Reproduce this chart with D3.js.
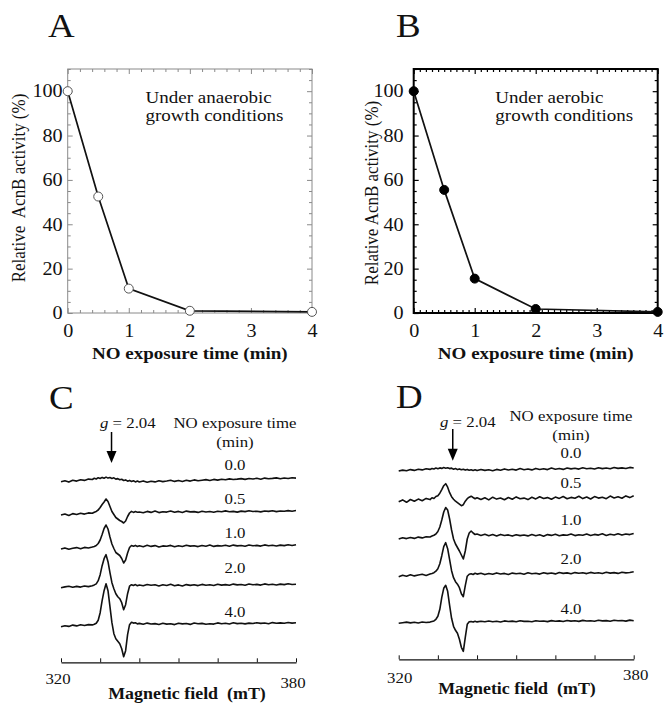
<!DOCTYPE html>
<html lang="en">
<head>
<meta charset="UTF-8">
<title>AcnB activity and EPR spectra</title>
<script src="https://d3js.org/d3.v7.min.js"></script>
<style>
  body { margin: 0; background: #fff; }
  svg text { font-family: "Liberation Serif", "Times New Roman", serif; fill: #111; }
</style>
</head>
<body>
<div id="fig"></div>
<script>
// ---------- data: panels A / B ----------
const timeMin = [0, 0.5, 1, 2, 4];
const anaerobicActivity = [100, 52.5, 11, 1, 0.5];
const aerobicActivity = [100, 55.5, 15.5, 1.8, 0.5];
const xTickValues = [0, 1, 2, 3, 4];
const yTickValues = [0, 20, 40, 60, 80, 100];

// ---------- data: panels C / D (EPR, arbitrary units) ----------
const fieldMT = [320, 321, 322, 323, 324, 325, 326, 327,
  328, 328.5, 329, 329.5, 330, 330.5, 331, 331.5,
  332, 332.5, 333, 333.5, 334, 334.5, 335, 335.5,
  336, 336.5, 337, 337.5, 338, 338.5, 339, 339.5,
  340, 341, 342, 343, 344, 345, 346, 347, 348, 349,
  350, 351, 352, 353, 354, 355, 356, 357, 358, 359,
  360, 361, 362, 363, 364, 365, 366, 367, 368, 369,
  370, 371, 372, 373, 374, 375, 376, 377, 378, 379,
  380];
const exposureLabels = ["0.0", "0.5", "1.0", "2.0", "4.0"];

const specC00 = [0, 0.9, -0.4, 1.4, 0.6, 2.0, 1.3, 2.6,
  2.2, 3.4, 2.7, 4.0, 3.2, 4.3, 3.5, 4.6,
  3.6, 4.2, 3.3, 3.9, 2.6, 3.1, 1.9, 2.4,
  1.2, 1.8, 0.5, 1.3, 0.2, 0.9, -0.2, 0.6,
  -0.3, 0.8, -0.6, 0.4, -0.2, 1.0, 0.1, 0.7, 1.5, 0.3,
  1.2, 0.2, 1.4, 0.6, 1.8, 0.9, 1.5, 2.1, 1.2, 2.3,
  1.6, 2.5, 1.9, 2.8, 2.2, 2.6, 3.1, 2.3, 3.2, 2.7,
  3.4, 2.5, 3.6, 2.9, 3.3, 3.8, 3.0, 3.7, 3.2, 4.0,
  3.6];
const specC05 = [0, 1.0, -0.5, 1.4, 0.5, 1.7, 0.9, 2.1,
  1.7, 2.8, 3.6, 5.0, 7.5, 10.5, 13.0, 16.0,
  13.5, 8.5, 3.5, 0.5, -2.5, -4.0, -5.5, -6.5,
  -8.0, -6.0, -1.5, 2.0, 3.6, 2.6, 3.4, 2.8,
  3.0, 2.3, 3.6, 2.6, 3.9, 2.4, 3.3, 2.9, 4.0, 2.7,
  3.6, 2.5, 3.9, 3.1, 3.4, 2.6, 3.7, 3.0, 3.5, 2.8,
  3.8, 3.2, 4.1, 3.3, 3.6, 2.9, 3.9, 3.4, 4.2, 3.5,
  3.8, 3.1, 4.0, 3.6, 4.3, 3.4, 4.0, 3.7, 4.4, 3.8,
  4.5];
const specC10 = [0, 1.1, -0.3, 0.7, 1.4, 0.2, 1.6, 1.0,
  2.0, 2.6, 3.5, 5.5, 9.0, 14.5, 20.5, 24.0,
  20.0, 12.0, 5.0, 0.5, -3.5, -5.0, -6.5, -9.5,
  -14.0, -11.0, -4.0, 1.5, 3.5, 2.8, 3.6, 2.5,
  3.2, 2.3, 3.7, 2.6, 3.4, 2.0, 3.1, 2.7, 3.6, 2.2,
  3.3, 2.5, 3.8, 2.9, 3.2, 2.4, 3.5, 2.8, 3.9, 2.6,
  3.4, 3.0, 3.7, 2.7, 3.9, 3.1, 3.5, 2.8, 4.0, 3.2,
  3.6, 2.9, 4.1, 3.3, 3.7, 3.0, 3.9, 3.4, 4.2, 3.5,
  4.3];
const specC20 = [0, 0.8, 1.5, 0.4, 1.3, 0.6, 1.7, 1.1,
  1.9, 2.8, 3.8, 7.0, 13.0, 22.0, 29.0, 33.0,
  26.0, 15.0, 5.0, -1.0, -6.0, -9.0, -11.0, -15.0,
  -22.0, -17.0, -6.0, 1.5, 3.0, 2.2, 3.1, 2.0,
  2.7, 1.9, 3.2, 2.4, 3.0, 1.8, 2.9, 2.2, 3.4, 2.0,
  2.8, 1.7, 3.1, 2.3, 2.9, 2.1, 3.3, 2.5, 3.0, 2.2,
  3.5, 2.6, 3.1, 2.4, 3.6, 2.8, 3.2, 2.5, 3.7, 2.9,
  3.3, 2.6, 3.8, 3.0, 3.4, 2.7, 3.6, 3.1, 3.9, 3.2,
  3.5];
const specC40 = [0, 1.0, 0.3, 1.6, 0.8, 1.9, 1.2, 2.1,
  1.8, 2.5, 3.5, 6.5, 14.0, 26.0, 36.0, 43.0,
  36.0, 20.0, 4.0, -7.0, -12.0, -14.5, -17.0, -22.0,
  -30.0, -24.0, -8.0, 2.0, 4.5, 3.6, 3.9, 2.8,
  3.3, 2.5, 3.6, 2.7, 3.1, 2.2, 3.4, 2.6, 3.0, 2.1,
  3.5, 2.8, 3.2, 2.3, 3.7, 2.9, 3.3, 2.4, 3.0, 2.6,
  3.8, 3.0, 3.4, 2.7, 3.9, 3.1, 3.5, 2.8, 3.6, 3.2,
  4.0, 3.3, 3.7, 2.9, 4.1, 3.4, 3.8, 3.5, 4.2, 3.6,
  3.9];

const specD00 = [0, 0.9, 0.2, 1.4, 0.6, 1.7, 1.1, 2.2,
  1.6, 2.5, 2.0, 2.9, 2.3, 3.1, 2.6, 3.4,
  2.8, 3.3, 2.4, 2.9, 1.8, 2.5, 1.4, 2.1,
  1.2, 1.8, 0.9, 1.6, 0.7, 1.3, 0.5, 1.2,
  0.4, 1.5, 0.6, 1.2, 0.3, 1.6, 0.8, 2.1, 1.0, 1.7,
  0.9, 2.4, 1.3, 2.0, 1.1, 2.6, 1.5, 2.3, 1.4, 2.9,
  1.8, 2.5, 1.6, 3.0, 2.1, 2.7, 1.9, 3.2, 2.3, 2.8,
  2.0, 3.3, 2.4, 3.0, 2.2, 3.5, 2.6, 3.1, 2.5, 3.6,
  3.0];
const specD05 = [0, 1.8, -0.6, 2.2, 0.4, 2.6, 1.0, 3.3,
  2.1, 4.0, 3.2, 5.2, 6.0, 8.5, 12.0, 16.0,
  18.0, 14.5, 9.0, 5.0, 2.5, 0.5, -1.0, -2.5,
  -4.0, -3.0, 0.5, 3.0, 4.5, 5.5, 4.2, 3.0,
  4.0, 2.2, 3.9, 1.8, 4.5, 2.6, 3.7, 1.9, 4.2, 2.5,
  4.8, 3.0, 3.6, 2.1, 4.4, 2.8, 5.0, 3.2, 4.1, 2.4,
  4.6, 3.3, 5.2, 2.9, 4.3, 3.5, 5.4, 3.1, 4.7, 2.7,
  5.1, 3.6, 4.5, 3.0, 5.6, 3.8, 4.9, 3.4, 5.8, 4.1,
  6.0];
const specD10 = [0, 1.2, 0.4, 1.5, 0.6, 1.9, 1.1, 2.3,
  2.0, 3.0, 3.8, 5.0, 7.5, 12.0, 19.0, 27.0,
  31.5, 29.0, 20.0, 9.0, 0.0, -5.0, -8.5, -12.0,
  -16.0, -20.0, -12.0, 0.0, 6.0, 8.0, 6.0, 4.5,
  5.0, 3.6, 4.8, 3.2, 4.4, 3.0, 4.6, 3.5, 4.1, 2.9,
  4.3, 3.4, 4.0, 3.1, 4.5, 3.3, 4.2, 2.8, 4.4, 3.6,
  4.7, 3.2, 4.1, 3.7, 4.9, 3.4, 4.3, 3.8, 5.0, 3.5,
  4.6, 3.9, 5.2, 3.6, 4.8, 4.0, 5.3, 3.9, 5.0, 4.4,
  5.5];
const specD20 = [0, 1.5, 0.5, 2.0, 0.8, 1.7, 2.4, 1.3,
  2.6, 3.2, 4.0, 5.5, 8.0, 13.0, 21.0, 30.0,
  34.0, 28.0, 17.0, 6.0, -1.0, -5.0, -7.5, -11.0,
  -17.0, -20.0, -9.0, 0.5, 2.5, 3.0, 2.2, 3.4,
  2.6, 3.5, 2.1, 3.2, 2.4, 3.8, 2.7, 3.3, 2.2, 3.6,
  2.9, 3.4, 2.5, 3.9, 3.0, 3.5, 2.6, 4.0, 3.1, 3.7,
  2.8, 4.2, 3.3, 3.8, 2.9, 4.1, 3.4, 3.9, 3.1, 4.3,
  3.5, 4.0, 3.2, 4.4, 3.6, 4.1, 3.3, 4.5, 3.8, 4.2,
  5.0];
const specD40 = [0, 0.6, 1.2, 0.4, 1.0, 0.3, 1.3, 0.8,
  1.2, 1.8, 2.4, 4.0, 7.0, 14.0, 26.0, 35.0,
  38.0, 32.0, 18.0, 5.0, -3.0, -7.0, -10.0, -16.0,
  -24.0, -28.0, -14.0, -1.0, 1.5, 1.8, 1.2, 2.0,
  1.4, 2.1, 1.5, 2.3, 1.6, 2.0, 1.3, 2.4, 1.8, 2.2,
  1.5, 2.5, 1.9, 2.1, 1.6, 2.6, 2.0, 2.3, 1.7, 2.7,
  2.1, 2.4, 1.8, 2.8, 2.2, 2.5, 1.9, 2.9, 2.3, 2.6,
  2.0, 3.0, 2.4, 2.7, 2.1, 3.1, 2.5, 2.8, 2.2, 3.2,
  2.6];

// ---------- layout ----------
const W = 664, H = 704;
const SX = 1.12; // the source figure is slightly stretched horizontally

const svg = d3.select("#fig").append("svg")
  .attr("width", W).attr("height", H);

function addText(x, y, str, o = {}) {
  const t = svg.append("text")
    .attr("transform", `translate(${x},${y}) scale(${SX},1)` + (o.rotate ? ` rotate(${o.rotate})` : ""))
    .attr("font-size", o.size || 17)
    .attr("text-anchor", o.anchor || "start")
    .attr("font-weight", o.weight || "normal")
    .style("white-space", "pre");
  if (o.italicFirst) {
    t.append("tspan").attr("font-style", "italic").text(o.italicFirst);
    t.append("tspan").text(str);
  } else {
    t.text(str);
  }
  return t;
}

function stretchLabels(g) {
  g.selectAll("text").each(function() {
    const x = +this.getAttribute("x") || 0;
    d3.select(this).attr("x", 0).attr("transform", `translate(${x},0) scale(${SX},1)`);
  });
}

// ---------- panels A and B ----------
function activityPanel(p) {
  const x = d3.scaleLinear().domain([0, 4]).range([p.left, p.right]);
  const y = d3.scaleLinear().domain([0, 110]).range([313, 69]);
  const g = svg.append("g");

  const minorX = d3.range(0, 4.0001, p.minorStep).filter(v => Math.abs(v - Math.round(v)) > 1e-6);
  const minorY = d3.range(0, 110.001, 5).filter(v => v % 20 !== 0);

  const axes = [
    [() => d3.axisBottom(x), 313, 0, true],
    [() => d3.axisTop(x), 69, 0, false],
    [() => d3.axisLeft(y), 0, p.left, true],
    [() => d3.axisRight(y), 0, p.right, false]
  ];
  axes.forEach(([mk, ty, tx, labels], i) => {
    const isX = i < 2;
    const major = g.append("g")
      .attr("transform", `translate(${tx},${ty})`)
      .call(mk().tickValues(isX ? xTickValues : yTickValues)
        .tickSizeInner(-5).tickSizeOuter(0)
        .tickPadding(isX ? 11 : p.yPad)
        .tickFormat(labels ? d3.format("d") : () => ""))
      .attr("font-size", 18);
    major.select(".domain").remove();
    major.selectAll("line").attr("stroke", p.tickColor).attr("stroke-width", p.tickWidth);
    major.selectAll("text").attr("fill", "#111");
    stretchLabels(major);

    const minor = g.append("g")
      .attr("transform", `translate(${tx},${ty})`)
      .call(mk().tickValues(isX ? minorX : minorY).tickSizeInner(-3).tickSizeOuter(0).tickFormat(() => ""));
    minor.select(".domain").remove();
    minor.selectAll("line").attr("stroke", p.tickColor).attr("stroke-width", p.tickWidth);
  });

  g.append("rect")
    .attr("x", p.left).attr("y", y(110))
    .attr("width", p.right - p.left).attr("height", y(0) - y(110))
    .attr("fill", "none").attr("stroke", p.frameColor).attr("stroke-width", p.frameWidth);

  const pts = d3.zip(timeMin, p.values);
  g.append("path")
    .datum(pts)
    .attr("fill", "none").attr("stroke", "#111").attr("stroke-width", 1.7)
    .attr("d", d3.line().x(d => x(d[0])).y(d => y(d[1])));

  g.selectAll("circle.pt").data(pts).join("circle")
    .attr("cx", d => x(d[0])).attr("cy", d => y(d[1]))
    .attr("r", 4.5)
    .attr("fill", p.open ? "#fff" : "#000")
    .attr("stroke", p.open ? "#555" : "#000").attr("stroke-width", 1);

  addText(p.noteX, 102.5, p.note1);
  addText(p.noteX, 121, "growth conditions");
  addText(p.ytitleX, p.ytitleY, p.ytitle, { size: 17, anchor: "middle", rotate: -90 });
  addText((p.left + p.right) / 2, 359, "NO exposure time (min)", { size: 17, anchor: "middle", weight: "bold" });
  addText(p.letterX, 36.5, p.letter, { size: 33 });
}

activityPanel({
  left: 67.7, right: 312, minorStep: 0.2, yPad: 5,
  tickColor: "#8a8a8a", tickWidth: 1, frameColor: "#8a8a8a", frameWidth: 1,
  values: anaerobicActivity, open: true,
  noteX: 145.5, note1: "Under anaerobic",
  ytitle: "Relative  AcnB activity (%)", ytitleX: 25, ytitleY: 188,
  letter: "A", letterX: 48
});
activityPanel({
  left: 413.7, right: 657.7, minorStep: 0.1, yPad: 10,
  tickColor: "#000", tickWidth: 1.2, frameColor: "#000", frameWidth: 2,
  values: aerobicActivity, open: false,
  noteX: 495.3, note1: "Under aerobic",
  ytitle: "Relative AcnB activity (%)", ytitleX: 378, ytitleY: 193,
  letter: "B", letterX: 396
});

// ---------- panels C and D ----------
function eprPanel(p) {
  const x = d3.scaleLinear().domain([320, 380]).range([p.left, p.right]);
  const g = svg.append("g");

  p.spectra.forEach((s, i) => {
    const base = p.baselines[i];
    const y = d3.scaleLinear().domain([-40, 50]).range([base + 40, base - 50]);
    g.append("path")
      .datum(d3.zip(fieldMT, s))
      .attr("fill", "none").attr("stroke", "#111").attr("stroke-width", 1.6)
      .attr("stroke-linejoin", "round")
      .attr("d", d3.line().x(d => x(d[0])).y(d => y(d[1])));
    addText(p.labelX, p.labelY[i], exposureLabels[i], { size: 15, anchor: "middle" });
  });

  const axis = g.append("g")
    .attr("transform", `translate(0,${p.axisY})`)
    .call(d3.axisBottom(x).tickValues([320, 330, 340, 350, 360, 370, 380])
      .tickSizeInner(-4).tickSizeOuter(0).tickFormat(() => ""));
  axis.select(".domain").attr("stroke", "#111").attr("stroke-width", 1.2);
  axis.selectAll("line").attr("stroke", "#111");

  addText(x(320) + p.lab320[0], p.lab320[1], "320", { size: 15, anchor: "middle" });
  addText(x(380) + p.lab380[0], p.lab380[1], "380", { size: 15, anchor: "middle" });
  addText(p.titleX, p.titleY, "Magnetic field  (mT)", { size: 16, anchor: "middle", weight: "bold" });

  // g-value marker
  const ax = x(p.gField);
  g.append("line").attr("x1", ax).attr("x2", ax)
    .attr("y1", p.arrowTop).attr("y2", p.arrowTip - 10)
    .attr("stroke", "#000").attr("stroke-width", 1.5);
  g.append("path")
    .attr("d", `M${ax - 5},${p.arrowTip - 12} L${ax + 5},${p.arrowTip - 12} L${ax},${p.arrowTip} Z`)
    .attr("fill", "#000");
  addText(p.gX, p.headY, " = 2.04", { size: 15, italicFirst: "g" });
  addText(p.labelX, p.headY2, "NO exposure time", { size: 15, anchor: "middle" });
  addText(p.labelX, p.minY, "(min)", { size: 15, anchor: "middle" });
  addText(p.letterX, p.letterY, p.letter, { size: 33 });
}

eprPanel({
  left: 61, right: 296, axisY: 662.3,
  spectra: [specC00, specC05, specC10, specC20, specC40],
  baselines: [481.7, 515, 549, 587.7, 626.7],
  labelX: 235, labelY: [470, 504, 537.5, 572.5, 617],
  lab320: [-3, 683.5], lab380: [-3, 688], titleX: 187, titleY: 698.5,
  gField: 332.9, arrowTop: 432, arrowTip: 463,
  gX: 100, headY: 427.5, headY2: 427.5, minY: 446.5,
  letter: "C", letterX: 49, letterY: 409
});
eprPanel({
  left: 398.7, right: 633.7, axisY: 659.3,
  spectra: [specD00, specD05, specD10, specD20, specD40],
  baselines: [471, 501.7, 539, 576.7, 623.3],
  labelX: 571, labelY: [457.5, 487.5, 525, 563.5, 613.5],
  lab320: [1, 683], lab380: [2, 680], titleX: 517, titleY: 693.5,
  gField: 333.8, arrowTop: 429, arrowTip: 460.7,
  gX: 440, headY: 426.5, headY2: 421, minY: 439.5,
  letter: "D", letterX: 396, letterY: 408
});
</script>
</body>
</html>
